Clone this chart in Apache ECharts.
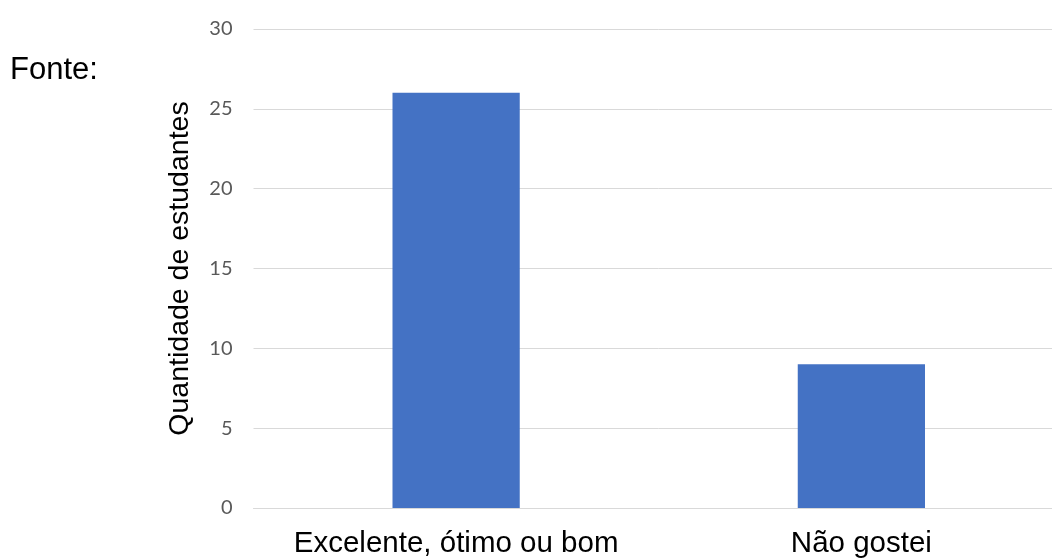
<!DOCTYPE html>
<html>
<head>
<meta charset="utf-8">
<script src="https://cdn.jsdelivr.net/npm/echarts@6/dist/echarts.min.js"></script>
<style>
  html, body { margin: 0; padding: 0; background: #fff; overflow: hidden; }
  /* o gráfico original é cortado na borda direita */
  #chart { width: 1064px; height: 559px; }
</style>
</head>
<body>
<div id="chart"></div>
<script>
// dados
const categorias = ['Excelente, ótimo ou bom', 'Não gostei'];
const quantidades = [26, 9];
const eixoY = { min: 0, max: 30, interval: 5 };

const myChart = echarts.init(document.getElementById('chart'));

const option = {
  backgroundColor: '#ffffff',
  animation: false,
  graphic: [
    {
      type: 'text',
      left: 10,
      top: 55,
      style: {
        text: 'Fonte:',
        font: '31px "Liberation Sans", Arial, sans-serif',
        fill: '#000000'
      }
    }
  ],
  grid: {
    left: 253.5,
    right: 0,
    top: 29,
    bottom: 50.5,
    containLabel: false
  },
  xAxis: {
    type: 'category',
    data: categorias,
    axisLine: { show: true, lineStyle: { color: '#d9d9d9', width: 1 } },
    axisTick: { show: false },
    axisLabel: {
      interval: 0,
      color: '#000000',
      fontFamily: '"Liberation Sans", Arial, sans-serif',
      fontSize: 29.5,
      margin: 21
    }
  },
  yAxis: {
    type: 'value',
    min: eixoY.min,
    max: eixoY.max,
    interval: eixoY.interval,
    name: 'Quantidade de estudantes',
    nameLocation: 'middle',
    nameRotate: 90,
    nameGap: 59,
    nameTextStyle: {
      color: '#000000',
      fontFamily: '"Liberation Sans", Arial, sans-serif',
      fontSize: 28.5
    },
    axisLine: { show: false },
    axisTick: { show: false },
    axisLabel: {
      color: '#595959',
      fontFamily: 'Lato, "Open Sans", sans-serif',
      fontSize: 20,
      margin: 21
    },
    splitLine: { lineStyle: { color: '#d9d9d9', width: 1 } }
  },
  series: [
    {
      type: 'bar',
      data: quantidades,
      barWidth: '31.4%',
      itemStyle: { color: '#4472c4' }
    }
  ]
};

myChart.setOption(option);
</script>
</body>
</html>
